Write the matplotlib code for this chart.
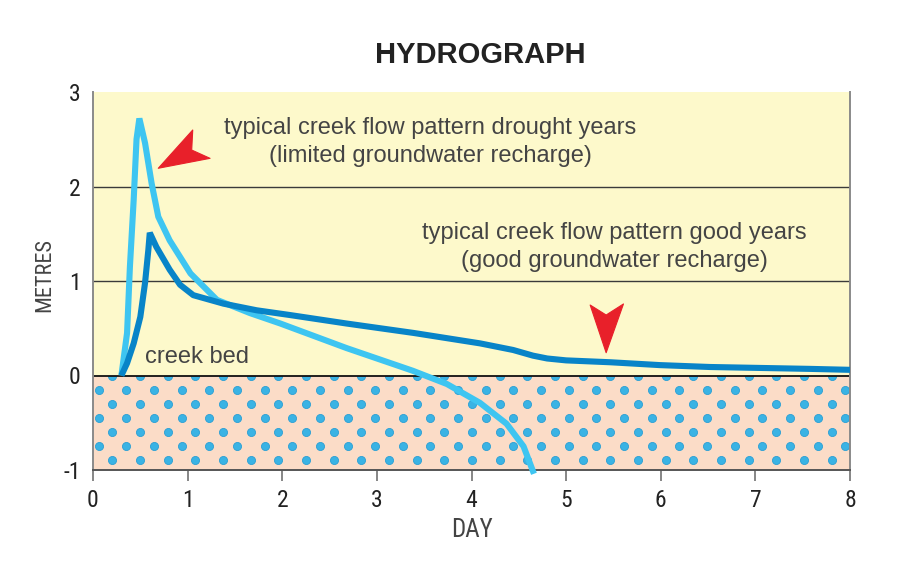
import numpy as np
import matplotlib
matplotlib.use("Agg")
import matplotlib.pyplot as plt
from matplotlib.patches import Rectangle, Polygon

# ---- data ----
drought_day = [0.30, 0.36, 0.39, 0.43, 0.46, 0.49, 0.55, 0.62, 0.69, 0.81, 1.03, 1.31,
               1.66, 1.98, 2.33, 2.68, 3.03, 3.38, 3.74, 4.09, 4.37, 4.55, 4.66]
drought_m = [0.00, 0.45, 1.15, 1.86, 2.50, 2.72, 2.46, 2.03, 1.68, 1.43, 1.08, 0.80,
             0.66, 0.55, 0.42, 0.29, 0.17, 0.05, -0.09, -0.29, -0.51, -0.75, -1.04]

good_day = [0.30, 0.36, 0.43, 0.50, 0.55, 0.585, 0.60, 0.67, 0.81, 0.92, 1.06, 1.38,
            1.73, 2.08, 2.68, 3.39, 4.09, 4.44, 4.65, 4.80, 5.00, 5.47, 5.99, 6.52,
            7.05, 7.58, 8.0]
good_m = [0.00, 0.13, 0.34, 0.62, 0.98, 1.33, 1.51, 1.36, 1.12, 0.96, 0.85, 0.76,
          0.69, 0.64, 0.55, 0.45, 0.34, 0.27, 0.21, 0.18, 0.16, 0.14, 0.11, 0.09,
          0.08, 0.07, 0.06]

x_ticks = [0, 1, 2, 3, 4, 5, 6, 7, 8]
x_labels = ["0", "1", "2", "3", "4", "5", "6", "7", "8"]
y_ticks = [-1, 0, 1, 2, 3]
y_labels = ["-1", "0", "1", "2", "3"]

title = "HYDROGRAPH"
x_title = "DAY"
y_title = "METRES"
note_drought = "typical creek flow pattern drought years\n(limited groundwater recharge)"
note_good = "typical creek flow pattern good years\n(good groundwater recharge)"
note_bed = "creek bed"

arrow_drought = [(0.690, 2.193), (1.054, 2.598), (1.043, 2.386), (1.237, 2.298)]
arrow_good = [(5.423, 0.241), (5.254, 0.746), (5.423, 0.640), (5.606, 0.757)]

# ---- styling ----
YELLOW = "#fdf9cb"
PEACH = "#fbdcc7"
DOT = "#3ab3e4"
LIGHT = "#3ec5f1"
DARK = "#0884c8"
RED = "#e8202a"
TEXT = "#444444"

num_font = ["Roboto Condensed", "Liberation Sans Narrow", "Roboto", "DejaVu Sans"]

fig = plt.figure(figsize=(9.13, 5.61), dpi=100)
ax = fig.add_axes([93 / 913, 1 - 470 / 561, (850 - 93) / 913, (470 - 92) / 561])
ax.set_xlim(0, 8)
ax.set_ylim(-1, 3)
ax.set_facecolor(YELLOW)

lower = Rectangle((0, -1), 8, 1, facecolor=PEACH, edgecolor="none", zorder=0.5)
ax.add_patch(lower)

# dotted ground texture
rows = -0.01 - 0.147 * np.arange(7)
dx, dy = [], []
for i, r in enumerate(rows):
    start = 0.205 if i % 2 == 0 else 0.059
    xs = np.arange(start, 8.0, 0.2923)
    dx.extend(xs)
    dy.extend([r] * len(xs))
sc = ax.scatter(dx, dy, s=34, facecolor=DOT, edgecolor="#2b9fd4", linewidths=0.6, zorder=0.8)
sc.set_clip_path(lower)

# grid / reference lines
for v in [1, 2]:
    ax.axhline(v, color="#3a3a3a", lw=1.0, zorder=1)
ax.axhline(0, color="#111111", lw=1.3, zorder=1.2)

# curves
ax.plot(drought_day, drought_m, color=LIGHT, lw=4.4, solid_joinstyle="bevel",
        solid_capstyle="butt", zorder=3, clip_on=False)
ax.plot(good_day, good_m, color=DARK, lw=4.4, solid_joinstyle="bevel",
        solid_capstyle="butt", zorder=4)

# red arrow heads
for pts in (arrow_drought, arrow_good):
    ax.add_patch(Polygon(pts, closed=True, facecolor=RED, edgecolor=RED,
                         lw=0.8, joinstyle="round", zorder=5))

# spines & ticks
ax.spines["top"].set_visible(False)
for s in ["left", "right"]:
    ax.spines[s].set_color("#8a8a8a")
    ax.spines[s].set_linewidth(1.4)
ax.spines["bottom"].set_color("#555555")
ax.spines["bottom"].set_linewidth(1.4)

ax.set_xticks(x_ticks)
ax.set_xticklabels(x_labels, fontfamily=num_font, fontsize=17, color="#222222")
ax.set_yticks(y_ticks)
ax.set_yticklabels(y_labels, fontfamily=num_font, fontsize=17, color="#222222")
ax.tick_params(axis="x", direction="out", length=8, width=1.1, color="#666666", pad=6)
ax.tick_params(axis="y", length=0, pad=9)

# texts
def ftext(px, py, s, **kw):
    fig.text(px / 913, 1 - py / 561, s, **kw)

ftext(480, 55, title, ha="center", va="center", fontsize=21, fontweight="bold",
      color="#222222", fontfamily="Liberation Sans")
ftext(472, 530, x_title, ha="center", va="center", fontsize=18, color=TEXT,
      fontfamily=num_font)
ftext(45, 275, y_title, ha="center", va="center", fontsize=16, color=TEXT,
      rotation=90, fontfamily=num_font)

ftext(430, 142, note_drought, ha="center", va="center", fontsize=17, color=TEXT,
      fontfamily="Liberation Sans", linespacing=1.35)
ftext(614, 247, note_good, ha="center", va="center", fontsize=17, color=TEXT,
      fontfamily="Liberation Sans", linespacing=1.35)
ftext(145, 357, note_bed, ha="left", va="center", fontsize=17, color=TEXT,
      fontfamily="Liberation Sans")

fig.savefig("out.png", dpi=100, facecolor="white")
